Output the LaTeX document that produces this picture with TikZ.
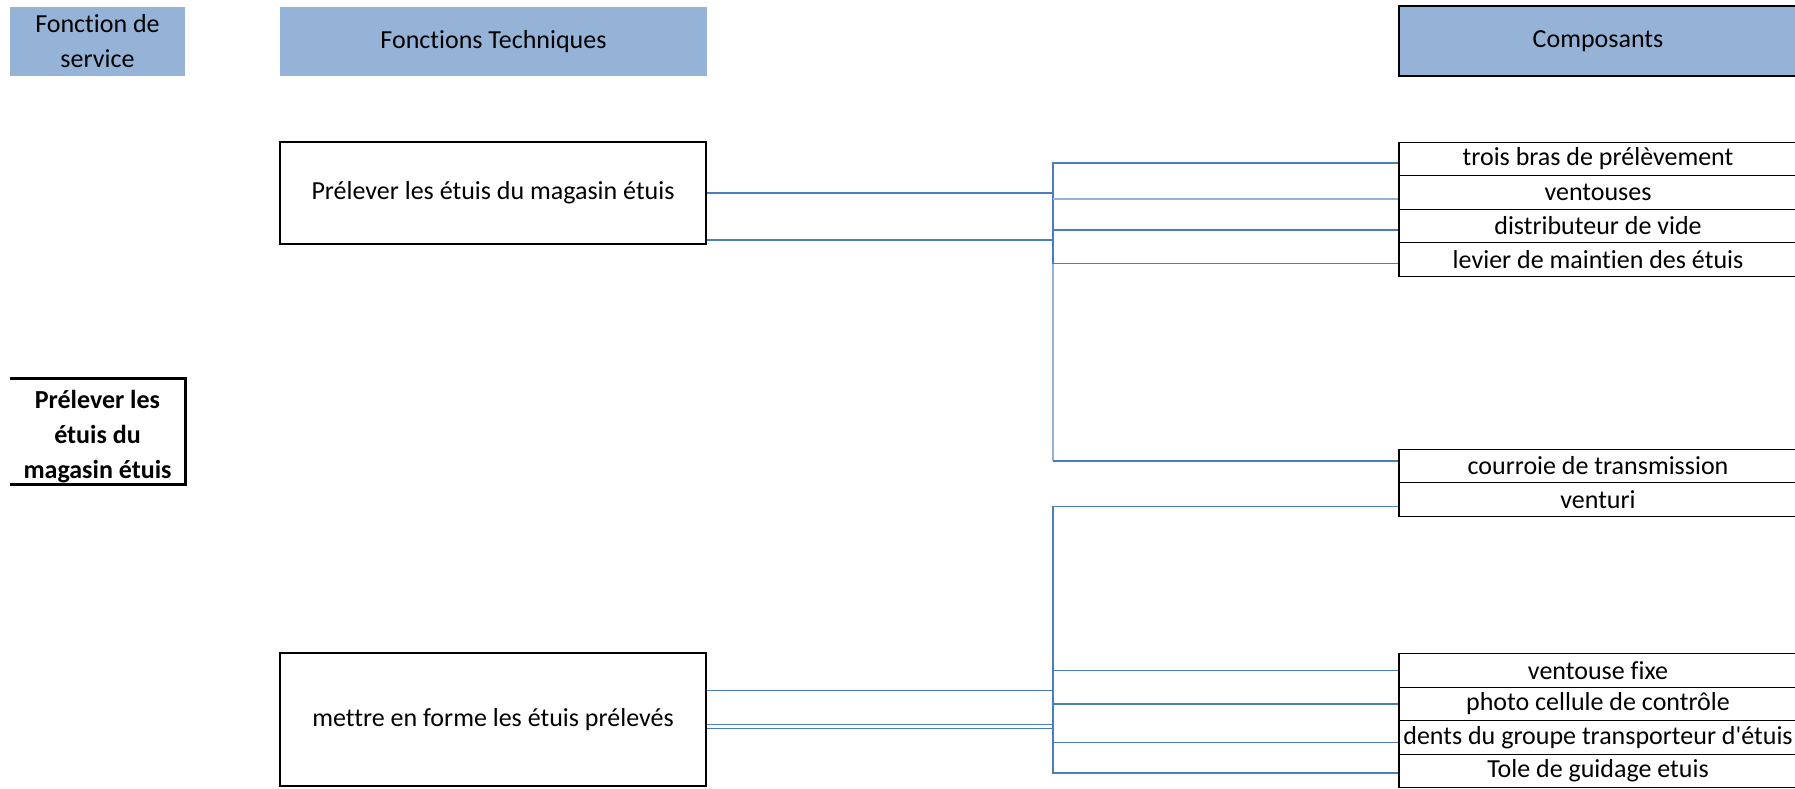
\documentclass[tikz,border=0pt]{standalone}
\usepackage{fontspec}
\newfontfamily\calfont{Carlito}[Ligatures=NoCommon]
\definecolor{hdr}{HTML}{95B3D7}
\definecolor{ln}{HTML}{4A7EBB}
\definecolor{lnl}{HTML}{95B3D7}
\tikzset{
  txt/.style={font=\calfont\fontsize{26}{35}\selectfont, align=center, inner sep=0pt},
  hdrbox/.style={txt, fill=hdr},
  techbox/.style={txt, draw=black, line width=1.3pt, minimum width=426pt},
  compbox/.style={txt, draw=black, line width=1.3pt, minimum width=398pt, minimum height=33.5pt},
  conn/.style={draw=ln, line width=1.8pt},
  connl/.style={draw=lnl, line width=2pt},
}
\begin{document}
\begin{tikzpicture}[x=1pt,y=-1pt]
\useasboundingbox (0,0) rectangle (1795,788);
% headers
\node[hdrbox, minimum width=175pt, minimum height=69pt] (hfs) at (97.5,41.5) {Fonction de\\service};
\node[hdrbox, minimum width=427pt, minimum height=69pt] (hft) at (493.5,41.5) {Fonctions Techniques};
\node[hdrbox, draw=black, line width=1.3pt, minimum width=398pt, minimum height=70pt] (hco) at (1598,41) {Composants};
% service function
\node[txt, font=\calfont\fontsize{26}{35}\selectfont\bfseries, minimum width=175pt, minimum height=105pt] (fs) at (97.5,431.5) {};
\node[txt, font=\calfont\fontsize{26}{35}\selectfont\bfseries] (fst) at ([yshift=-5pt]fs.center) {Prélever les\\étuis du\\magasin étuis};
\draw[line width=3pt] (fs.north west) -- (fs.north east) -- (fs.south east) -- (fs.south west);
% technical functions
\node[techbox, minimum height=102pt] (t1) at (493,193) {Prélever les étuis du magasin étuis};
\node[techbox, minimum height=133pt] (t2) at (493,719.5) {mettre en forme les étuis prélevés};
% components
\node[compbox] (c1) at (1598,159) {trois bras de prélèvement};
\node[compbox] (c2) at (1598,192.5) {ventouses};
\node[compbox] (c3) at (1598,226) {distributeur de vide};
\node[compbox] (c4) at (1598,259.5) {levier de maintien des étuis};
\node[compbox] (c5) at (1598,466) {courroie de transmission};
\node[compbox] (c6) at (1598,499.5) {venturi};
\node[compbox] (c7) at (1598,670.5) {ventouse fixe};
\node[compbox] (c8) at (1598,704) {photo cellule de contrôle};
\node[compbox] (c9) at (1598,737.5) {dents du groupe transporteur d\char39 étuis};
\node[compbox] (c10) at (1598,771) {Tole de guidage etuis};
% bus positions
\coordinate (bx) at (1053,0);
% group 1
\draw[conn, line width=2.8pt] (t1.east) -- (t1.east -| bx);
\draw[conn] ([yshift=5pt]t1.south east) -- ([yshift=5pt]t1.south east -| bx);
\draw[conn] ([yshift=-4pt]c1.west) -- ([yshift=-4pt]c1.west -| bx) -- ([yshift=-4pt]c4.west -| bx);
\draw[connl] ([yshift=-4pt]c4.west -| bx) -- ([yshift=5pt]c5.west -| bx);
\draw[connl] ([yshift=-6pt]c2.west) -- ([yshift=-6pt]c2.west -| bx);
\draw[conn] ([yshift=-4pt]c3.west) -- ([yshift=-4pt]c3.west -| bx);
\draw[conn] ([yshift=-4pt]c4.west) -- ([yshift=-4pt]c4.west -| bx);
\draw[conn] ([yshift=5pt]c5.west) -- ([yshift=5pt]c5.west -| bx);
% group 2
\draw[conn] ([yshift=-7pt]c6.west) -- ([yshift=-7pt]c6.west -| bx) -- ([yshift=-2pt]c10.west -| bx) -- ([yshift=-2pt]c10.west);
\draw[conn] ([yshift=29pt]t2.east) -- ([yshift=29pt]t2.east -| bx);
\draw[conn] ([yshift=-5pt]t2.east) -- ([yshift=-5pt]t2.east -| bx);
\draw[conn] ([yshift=-9pt]t2.east) -- ([yshift=-9pt]t2.east -| bx);
\draw[conn] (c7.west) -- (c7.west -| bx);
\draw[conn] (c8.west) -- (c8.west -| bx);
\draw[conn] ([yshift=-5pt]c9.west) -- ([yshift=-5pt]c9.west -| bx);
\end{tikzpicture}
\end{document}
